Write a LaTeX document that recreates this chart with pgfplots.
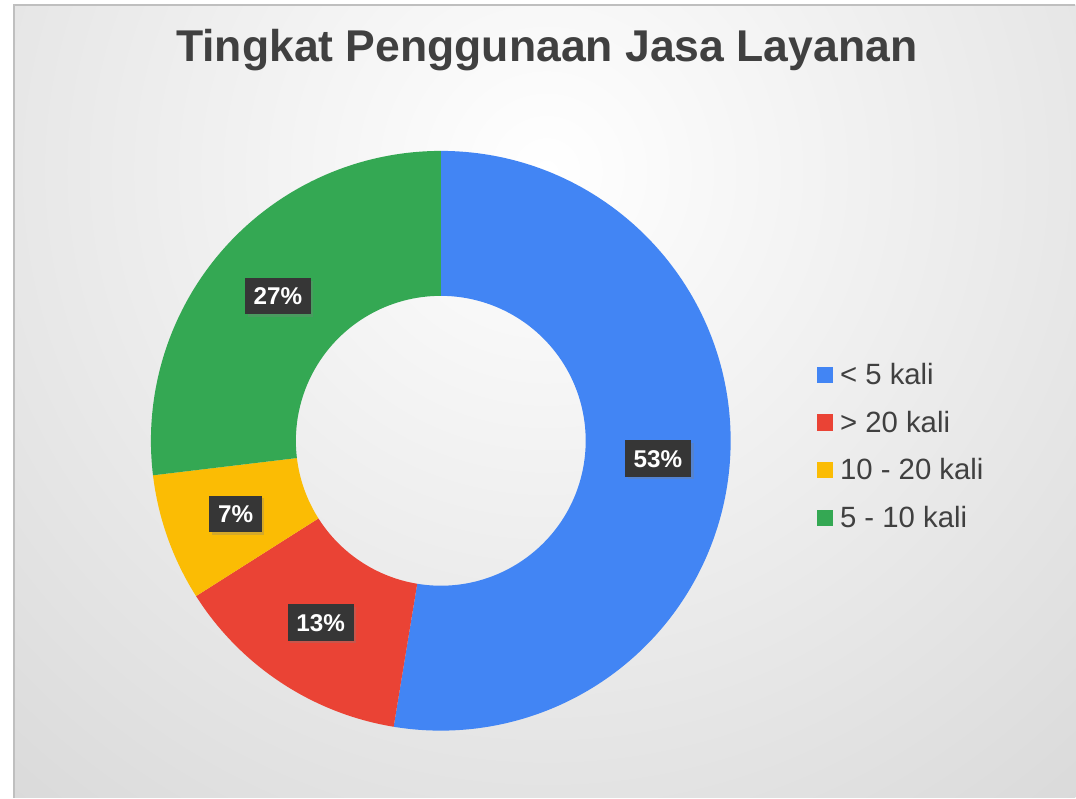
\documentclass[border=0pt]{standalone}
\usepackage{pgfplots}
\pgfplotsset{compat=1.18}
\usepackage{pgfplotstable}
\usepackage{fontspec}
\setmainfont{Liberation Sans}
\usetikzlibrary{calc,shadows}

\definecolor{c0}{HTML}{4285F4}
\definecolor{c1}{HTML}{EA4335}
\definecolor{c2}{HTML}{FBBC04}
\definecolor{c3}{HTML}{34A853}
\definecolor{txt}{HTML}{404040}
\definecolor{lblbg}{HTML}{363636}

% share of each answer, in percent, clockwise from 12 o'clock
\pgfplotstableread{
value label
52.6  53
13.4  13
7.1   7
26.9  27
}\donutdata

\begin{document}
\begin{tikzpicture}
% start / end / middle angle of every slice
\def\startangle{90}
\pgfplotsforeachungrouped \i in {0,...,3}{%
  \pgfplotstablegetelem{\i}{value}\of\donutdata
  \pgfmathsetmacro\endangle{\startangle-3.6*\pgfplotsretval}%
  \pgfmathsetmacro\midangle{(\startangle+\endangle)/2}%
  \expandafter\xdef\csname sa\i\endcsname{\startangle}%
  \expandafter\xdef\csname ea\i\endcsname{\endangle}%
  \expandafter\xdef\csname ma\i\endcsname{\midangle}%
  \pgfplotstablegetelem{\i}{label}\of\donutdata
  \expandafter\xdef\csname lb\i\endcsname{\pgfplotsretval}%
  \xdef\startangle{\endangle}%
}

% background
\fill[white] (0,0) rectangle (807pt,598.5pt);
\begin{scope}
  \clip (10.5pt,0) rectangle (807pt,594.75pt);
  \shade[inner color=white, outer color=black!15] (410pt,470pt) circle (640pt);
\end{scope}
\draw[black!25, line width=0.8pt] (10.5pt,0) -- (10.5pt,594.75pt) -- (807pt,594.75pt);

\begin{axis}[
    scale only axis,
    width=807pt, height=598.5pt,
    xmin=0, xmax=1076, ymin=0, ymax=798,
    hide axis,
    clip=false,
    legend cell align=left,
    legend style={draw=none, fill=none, inner sep=0pt,
        at={(axis cs:817,448)}, anchor=north west,
        font=\fontsize{22}{26}\selectfont, text=txt,
        nodes={inner sep=0pt, minimum height=35.8pt, text depth=0pt},
        row sep=0pt,
        /tikz/every odd column/.append style={column sep=5.5pt}},
]
\pgfplotsinvokeforeach{0,...,3}{
  \fill[c#1] ($(axis cs:441,357)+(\csname sa#1\endcsname:217.5pt)$)
    arc[start angle=\csname sa#1\endcsname, end angle=\csname ea#1\endcsname, radius=217.5pt]
    -- ($(axis cs:441,357)+(\csname ea#1\endcsname:108.75pt)$)
    arc[start angle=\csname ea#1\endcsname, end angle=\csname sa#1\endcsname, radius=108.75pt]
    -- cycle;
}
\pgfplotsinvokeforeach{0,...,3}{
  \node[fill=lblbg, text=white, font=\bfseries\fontsize{18.2}{21}\selectfont,
        inner xsep=6.5pt, inner ysep=7pt, text height=13.2pt, text depth=0pt,
        drop shadow={opacity=0.3, shadow xshift=2pt, shadow yshift=-2pt}]
    at ($(axis cs:441,357)+(\csname ma#1\endcsname:163.5pt)$) {\csname lb#1\endcsname\%};
}
\node[anchor=base, text=txt, font=\bfseries\fontsize{33.4}{40}\selectfont]
  at (axis cs:547,736) {Tingkat Penggunaan Jasa Layanan};

\addlegendimage{legend image code/.code={\fill[c0] (0pt,-6.3pt) rectangle (11.5pt,5.2pt);}}
\addlegendimage{legend image code/.code={\fill[c1] (0pt,-6.3pt) rectangle (11.5pt,5.2pt);}}
\addlegendimage{legend image code/.code={\fill[c2] (0pt,-6.3pt) rectangle (11.5pt,5.2pt);}}
\addlegendimage{legend image code/.code={\fill[c3] (0pt,-6.3pt) rectangle (11.5pt,5.2pt);}}
\legend{< 5 kali, > 20 kali, 10 - 20 kali, 5 - 10 kali}
\end{axis}
\end{tikzpicture}
\end{document}
